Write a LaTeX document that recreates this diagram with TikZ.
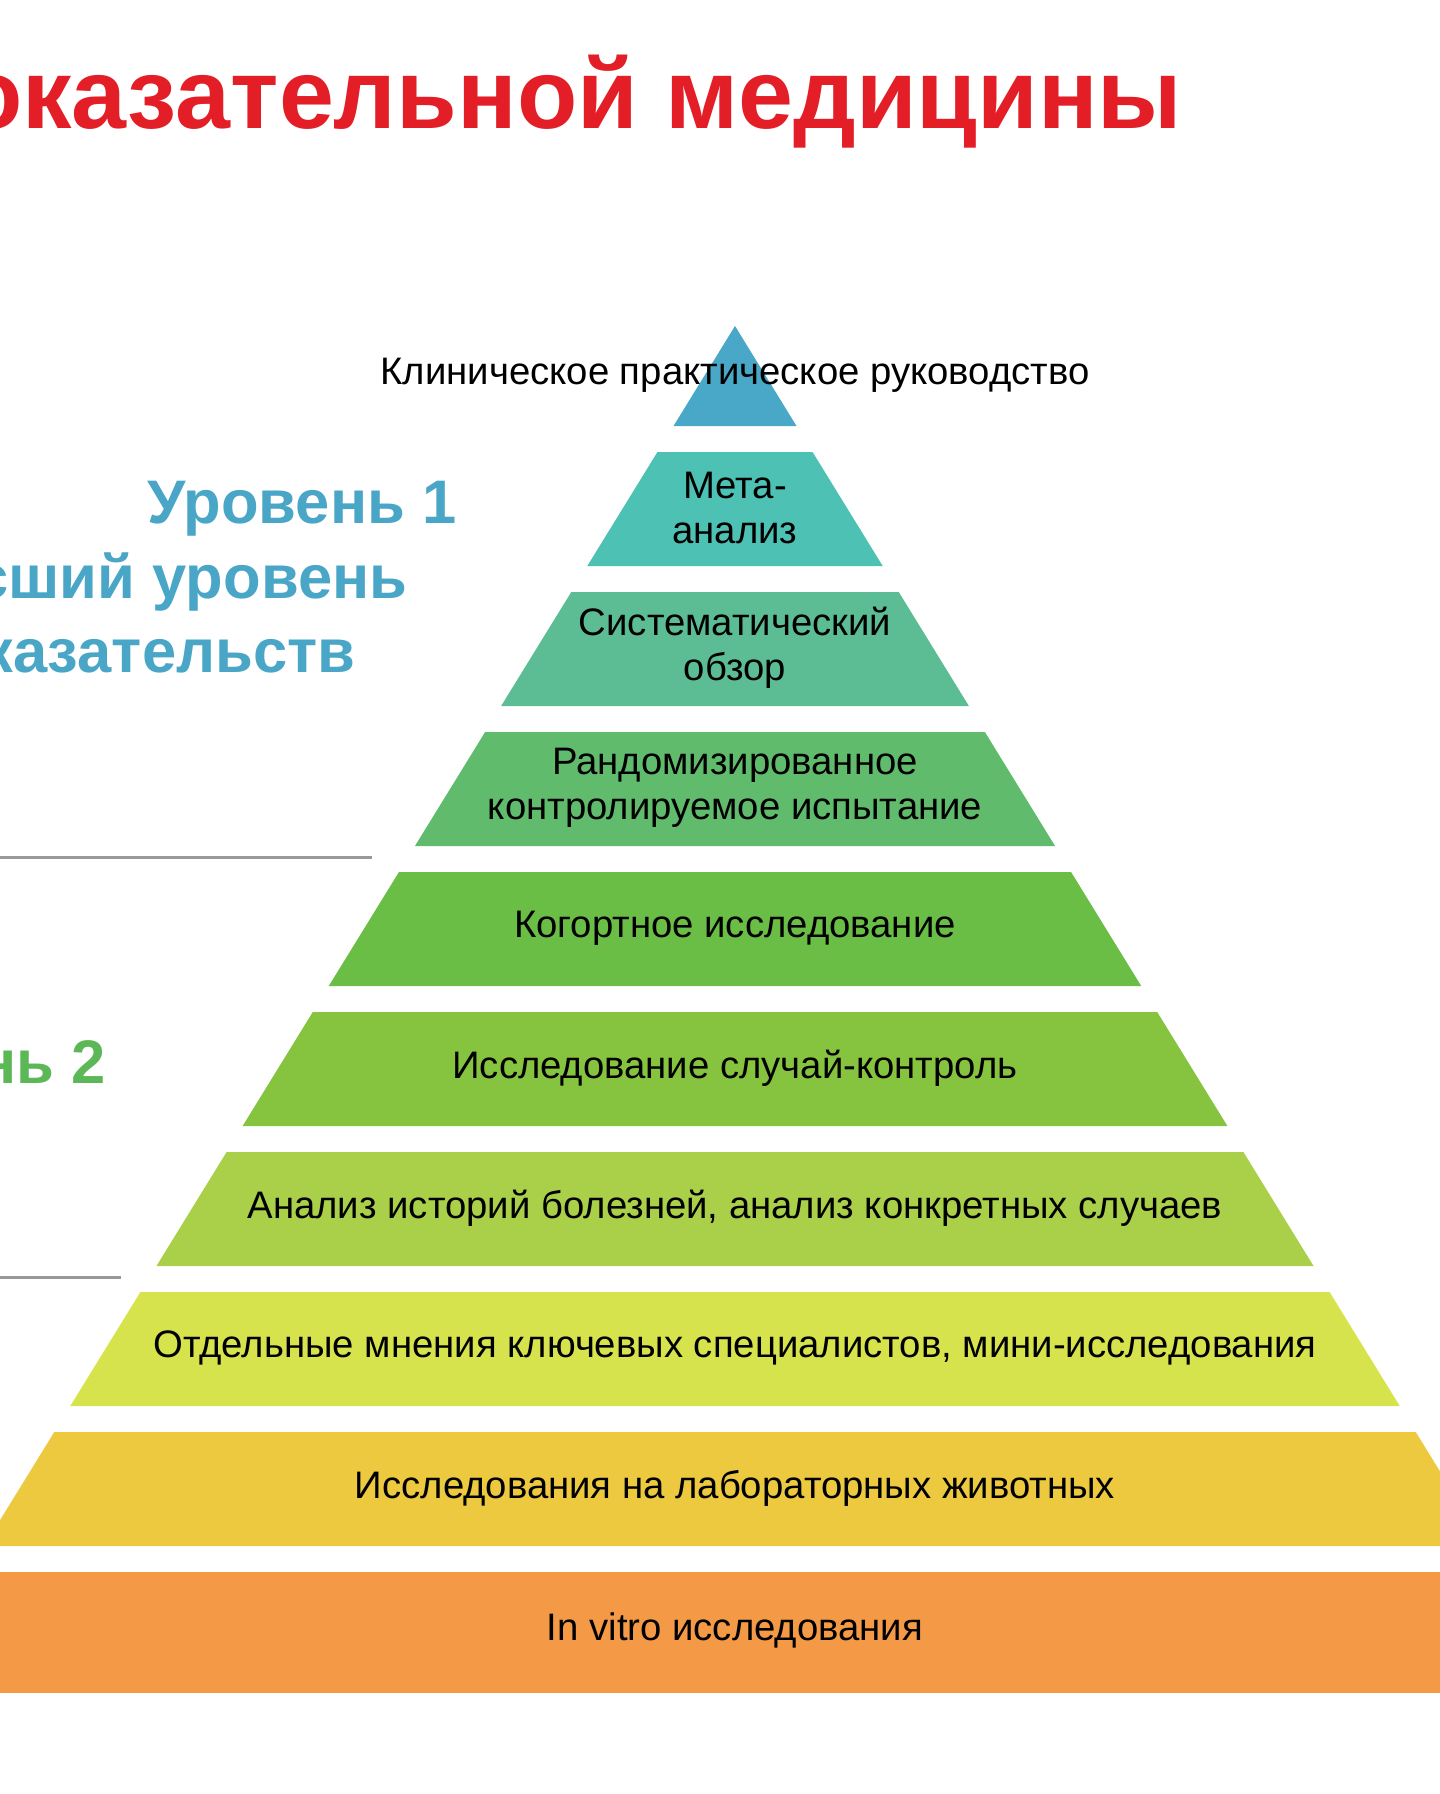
\documentclass[tikz,border=0pt]{standalone}
\usepackage{fontspec}
\setmainfont{Liberation Sans}
\usetikzlibrary{positioning}
\definecolor{tierA}{HTML}{49A8C7}
\definecolor{tierB}{HTML}{4DC1B4}
\definecolor{tierC}{HTML}{5CBD95}
\definecolor{tierD}{HTML}{60BC6C}
\definecolor{tierE}{HTML}{6ABD45}
\definecolor{tierF}{HTML}{86C440}
\definecolor{tierG}{HTML}{AAD04A}
\definecolor{tierH}{HTML}{D7E34C}
\definecolor{tierI}{HTML}{ECC93F}
\definecolor{tierJ}{HTML}{F49A46}
\definecolor{titlered}{HTML}{E31E26}
\definecolor{levelblue}{HTML}{4AA6C6}
\definecolor{levelgreen}{HTML}{5CB757}
\tikzstyle{tiertext} = [align=center,inner sep=0,font=\fontsize{10.9}{12.8}\selectfont]
\tikzstyle{levellabel} = [anchor=base east,inner sep=0,font=\fontsize{17.5}{21}\selectfont\bfseries]
\tikzstyle{divider} = [line width=0.85pt,draw=black!40]

\begin{document}
\begin{tikzpicture}[x=0.1mm,y=-0.1mm]
        \useasboundingbox (0,0) rectangle (1440,1794);
        \clip (0,0) rectangle (1440,1794);
        \node[anchor=base east,inner sep=0,text=titlered,font=\fontsize{28.1}{34}\selectfont\bfseries] (title) at (1183,129) {доказательной медицины};

        \fill[tierA] (735,326) -- (796.5,426) -- (673.5,426) -- cycle;
        \foreach \i/\col/\txt in {2/tierB/{Мета-\\анализ},3/tierC/{Систематический\\обзор},4/tierD/{Рандомизированное\\контролируемое испытание},5/tierE/{Когортное исследование},6/tierF/{Исследование случай-контроль},7/tierG/{Анализ историй болезней, анализ конкретных случаев},8/tierH/{Отдельные мнения ключевых специалистов, мини-исследования},9/tierI/{Исследования на лабораторных животных}}{
                \pgfmathsetmacro\yt{452+140*(\i-2)}
                \pgfmathsetmacro\yb{\yt+114}
                \pgfmathsetmacro\dt{0.6155*(\yt-326)}
                \pgfmathsetmacro\db{0.6155*(\yb-326)}
                \fill[\col] (735-\dt,\yt) -- (735+\dt,\yt) -- (735+\db,\yb) -- (735-\db,\yb) -- cycle;
                \node[tiertext] (tier\i) at (735,\yt+56) {\txt};
        }
        \fill[tierJ] (0,1572) rectangle (1440,1693);
        \node[tiertext] (tier10) at (735,1630) {In vitro исследования};
        \node[tiertext,anchor=base] (tier1) at (735,384) {Клиническое практическое руководство};

        \node[levellabel,text=levelblue] (lvl1) at (457,523) {Уровень 1};
        \node[levellabel,text=levelblue] (lvl1b) at (408,598) {Высший уровень};
        \node[levellabel,text=levelblue] (lvl1c) at (356,672) {доказательств};
        \node[levellabel,text=levelgreen] (lvl2) at (106,1083) {Уровень 2};

        \draw[divider] (0,857) -- (372,857);
        \draw[divider] (0,1277) -- (121,1277);
\end{tikzpicture}
\end{document}
